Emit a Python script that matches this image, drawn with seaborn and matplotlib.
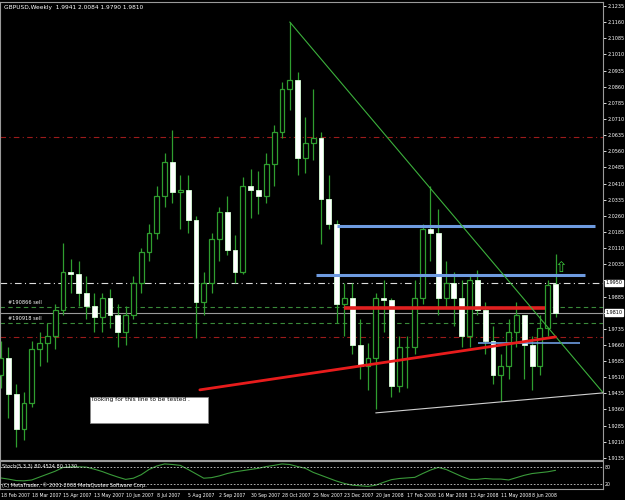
import numpy as np
import pandas as pd
import matplotlib
matplotlib.use("Agg")
import matplotlib.pyplot as plt
import seaborn as sns

# ---------------- data ----------------
week_labels = ["18 Feb 2007", "18 Mar 2007", "15 Apr 2007", "13 May 2007", "10 Jun 2007",
               "8 Jul 2007", "5 Aug 2007", "2 Sep 2007", "30 Sep 2007", "28 Oct 2007",
               "25 Nov 2007", "23 Dec 2007", "20 Jan 2008", "17 Feb 2008", "16 Mar 2008",
               "13 Apr 2008", "11 May 2008", "8 Jun 2008"]
week_label_pos = [0, 4, 8, 12, 16, 20, 24, 28, 32, 36, 40, 44, 48, 52, 56, 60, 64, 68]

opens = [1.9520, 1.9600, 1.9430, 1.9270, 1.9390, 1.9640, 1.9670, 1.9700, 1.9820, 2.0000,
         1.9990, 1.9900, 1.9840, 1.9790, 1.9880, 1.9800, 1.9720, 1.9800, 1.9950, 2.0090,
         2.0180, 2.0350, 2.0510, 2.0370, 2.0380, 2.0240, 1.9860, 1.9950, 2.0150, 2.0280,
         2.0100, 2.0000, 2.0400, 2.0380, 2.0350, 2.0500, 2.0650, 2.0850, 2.0890, 2.0530,
         2.0600, 2.0620, 2.0340, 2.0220, 1.9850, 1.9880, 1.9660, 1.9560, 1.9600, 1.9880,
         1.9870, 1.9470, 1.9650, 1.9650, 1.9880, 2.0200, 2.0180, 1.9880, 1.9950, 1.9880,
         1.9700, 1.9960, 1.9820, 1.9680, 1.9520, 1.9560, 1.9720, 1.9800, 1.9660, 1.9560,
         1.9740, 1.9941]
highs = [1.9680, 1.9650, 1.9480, 1.9440, 1.9680, 1.9720, 1.9760, 1.9850, 2.0133, 2.0060,
         2.0050, 1.9980, 1.9900, 1.9900, 1.9920, 1.9850, 1.9840, 1.9980, 2.0110, 2.0220,
         2.0400, 2.0550, 2.0658, 2.0450, 2.0450, 2.0260, 2.0000, 2.0180, 2.0300, 2.0350,
         2.0170, 2.0440, 2.0480, 2.0470, 2.0550, 2.0680, 2.0880, 2.1161, 2.0930, 2.0720,
         2.0850, 2.0650, 2.0450, 2.0240, 1.9950, 1.9950, 1.9780, 1.9670, 1.9900, 1.9960,
         1.9880, 1.9700, 1.9700, 1.9960, 2.0220, 2.0397, 2.0290, 2.0050, 2.0000, 1.9960,
         1.9990, 2.0010, 1.9860, 1.9750, 1.9620, 1.9780, 1.9860, 1.9800, 1.9700, 1.9800,
         1.9960, 2.0084]
lows = [1.9460, 1.9320, 1.9185, 1.9220, 1.9370, 1.9560, 1.9580, 1.9640, 1.9800, 1.9900,
        1.9840, 1.9780, 1.9720, 1.9720, 1.9740, 1.9650, 1.9660, 1.9780, 1.9900, 2.0050,
        2.0150, 2.0300, 2.0320, 2.0200, 2.0180, 1.9690, 1.9800, 1.9900, 2.0050, 2.0080,
        1.9950, 1.9990, 2.0250, 2.0270, 2.0320, 2.0400, 2.0620, 2.0750, 2.0450, 2.0460,
        2.0520, 2.0130, 2.0200, 1.9760, 1.9700, 1.9620, 1.9500, 1.9450, 1.9363, 1.9720,
        1.9420, 1.9440, 1.9460, 1.9620, 1.9850, 2.0050, 1.9800, 1.9830, 1.9750, 1.9650,
        1.9650, 1.9800, 1.9620, 1.9480, 1.9400, 1.9500, 1.9650, 1.9500, 1.9450, 1.9520,
        1.9700, 1.9790]
closes = [1.9600, 1.9430, 1.9270, 1.9390, 1.9640, 1.9670, 1.9700, 1.9820, 2.0000, 1.9990,
          1.9900, 1.9840, 1.9790, 1.9880, 1.9800, 1.9720, 1.9800, 1.9950, 2.0090, 2.0180,
          2.0350, 2.0510, 2.0370, 2.0380, 2.0240, 1.9860, 1.9950, 2.0150, 2.0280, 2.0100,
          2.0000, 2.0400, 2.0380, 2.0350, 2.0500, 2.0650, 2.0850, 2.0890, 2.0530, 2.0600,
          2.0620, 2.0340, 2.0220, 1.9850, 1.9880, 1.9660, 1.9560, 1.9600, 1.9880, 1.9870,
          1.9470, 1.9650, 1.9650, 1.9880, 2.0200, 2.0180, 1.9880, 1.9950, 1.9880, 1.9700,
          1.9960, 1.9820, 1.9680, 1.9520, 1.9560, 1.9720, 1.9800, 1.9660, 1.9560, 1.9740,
          1.9940, 1.9810]

stoch_main = [41, 37, 32, 31, 34, 44, 54, 64, 77, 79, 79, 78, 71, 63, 53, 44, 36, 40, 52, 70,
              82, 89, 87, 84, 70, 55, 40, 42, 48, 56, 62, 66, 70, 74, 80, 84, 89, 87, 80, 74,
              60, 50, 40, 30, 22, 16, 14, 12, 16, 26, 35, 39, 41, 43, 56, 68, 77, 70, 58, 46,
              36, 36, 39, 37, 37, 34, 42, 50, 56, 59, 62, 67]

price_ticks = [1.9135, 1.9210, 1.9285, 1.9360, 1.9435, 1.9510, 1.9585, 1.9660, 1.9735,
               1.9810, 1.9885, 1.9960, 2.0035, 2.0110, 2.0185, 2.0260, 2.0335, 2.0410,
               2.0485, 2.0560, 2.0635, 2.0710, 2.0785, 2.0860, 2.0935, 2.1010, 2.1085,
               2.1160, 2.1235]
hidden_ticks = [1.9810, 1.9960]

# drawn objects (price levels / trendlines)
red_dash_levels = [2.0626, 1.9697]
order_levels = [1.9836, 1.9762]
order_names = ["#190866 sell", "#190918 sell"]
line_level = 1.9948
bid_level = 1.9810
blue_levels = [2.0213, 1.9985, 1.9669]
blue_start = [43.1, 40.3, 61.1]
blue_end = [76.1, 74.8, 74.1]
red_bold_level = 1.9832
tri_upper = ([37, 77.1], [2.1161, 1.9437])
tri_lower = ([48, 77.1], [1.9344, 1.9437])
red_trend = ([25.5, 71.0], [1.9451, 1.9697])

title_text = "GBPUSD,Weekly  1.9941 2.0084 1.9790 1.9810"
note_text = "looking for this line to be tested ."

# ---------------- figure ----------------
sns.set_style("dark")
plt.rcParams['font.family'] = ['DejaVu Sans']
fig = plt.figure(figsize=(6.25, 5.0), dpi=100, facecolor="black")

ax = fig.add_axes([0.0, 0.08, 0.9648, 0.916])
ax2 = fig.add_axes([0.0, 0.022, 0.9648, 0.056])
for a in (ax, ax2):
    a.set_facecolor("black")
    for s in a.spines.values():
        s.set_color("#9a9a9a")
        s.set_linewidth(0.8)
    a.grid(False)

XMIN, XMAX = -0.064, 77.07
ax.set_xlim(XMIN, XMAX)
ax.set_ylim(1.9125, 2.1254)

df = pd.DataFrame({"i": np.arange(len(opens)), "o": opens, "h": highs, "l": lows, "c": closes})
green = "#2f9e2f"

# wicks
ax.vlines(df["i"], df["l"], df["h"], color=green, lw=0.9, zorder=3)
# bodies
bull = df[df["c"] >= df["o"]]
bear = df[df["c"] < df["o"]]
ax.bar(bull["i"], bull["c"] - bull["o"], bottom=bull["o"], width=0.62,
       color="black", edgecolor=green, linewidth=0.9, zorder=4)
ax.bar(bear["i"], bear["o"] - bear["c"], bottom=bear["c"], width=0.62,
       color="white", edgecolor="#d8ffd8", linewidth=0.6, zorder=4)

# horizontal levels
for lv in red_dash_levels:
    ax.axhline(lv, color="#9b1b1b", lw=0.8, ls=(0, (5, 3, 1, 3)), zorder=2)
ax.axhline(line_level, color="#dddddd", lw=0.8, ls=(0, (6, 3, 1, 3)), zorder=2)
ax.axhline(bid_level, color="#9a9a9a", lw=0.8, zorder=2)
for lv, nm in zip(order_levels, order_names):
    ax.axhline(lv, color="#3a8a3a", lw=0.8, ls=(0, (4, 3)), zorder=2)
    ax.text(1.0, lv + 0.0009, nm, color="white", fontsize=3.6, va="bottom", ha="left", zorder=6)

# blue lines
for lv, s, e, lw in zip(blue_levels, blue_start, blue_end, [2.2, 2.2, 1.2]):
    ax.hlines(lv, s, e, color="#6e9be0", lw=lw, zorder=5)

# red bold level
ax.hlines(red_bold_level, 44.0, 69.7, color="#e02020", lw=2.6, zorder=5)

# trend lines
ax.plot(tri_upper[0], tri_upper[1], color="#3cb03c", lw=0.8, zorder=5)
ax.plot(tri_lower[0], tri_lower[1], color="#d0d0d0", lw=0.8, zorder=5)
ax.plot(red_trend[0], red_trend[1], color="#e81c1c", lw=2.0, zorder=5)

# arrow mark
ax.text(71.7, 1.9985, "\u21e7", color="#3cc83c", fontsize=11, ha="center", va="bottom", zorder=6)

# note box
ax.add_patch(matplotlib.patches.Rectangle((11.5, 1.9297), 15.1, 0.0121,
                                          facecolor="white", edgecolor="#888888", lw=0.6, zorder=6))
ax.text(11.7, 1.9405, note_text, color="black", fontsize=4.2, ha="left", va="center", zorder=7)

# title
ax.text(0.006, 0.994, title_text, transform=ax.transAxes, color="white", fontsize=4.2,
        ha="left", va="top", zorder=7)

# right axis
ax.yaxis.tick_right()
ax.set_yticks(price_ticks)
ax.set_yticklabels(["" if t in hidden_ticks else f"{t:.4f}" for t in price_ticks])
ax.tick_params(axis="y", colors="white", labelsize=3.5, length=2, width=0.6, pad=1.2)
ax.set_xticks([])
for lv, txt in [(line_level, "1.9950"), (bid_level, "1.9810")]:
    ax.text(1.004, lv, txt, transform=ax.get_yaxis_transform(), color="black", fontsize=3.5,
            ha="left", va="center", zorder=8,
            bbox=dict(boxstyle="square,pad=0.15", facecolor="white", edgecolor="white"))

# ---------------- stochastic panel ----------------
sdf = pd.DataFrame({"i": np.arange(len(stoch_main)), "v": stoch_main})
sns.lineplot(data=sdf, x="i", y="v", ax=ax2, color="#3a9a3a", lw=0.8)
ax2.set_xlim(XMIN, XMAX)
ax2.set_ylim(3, 99)
for lv in (80, 20):
    ax2.axhline(lv, color="#cccccc", lw=0.6, ls=(0, (2, 2)))
ax2.yaxis.tick_right()
ax2.set_yticks([80, 20])
ax2.set_yticklabels(["80", "20"])
ax2.tick_params(axis="y", colors="white", labelsize=3.4, length=0, pad=1)
ax2.set_xticks(week_label_pos)
ax2.set_xticklabels(week_labels)
ax2.tick_params(axis="x", colors="white", labelsize=3.3, length=2, width=0.5, pad=1.0)
for t in ax2.get_xticklabels():
    t.set_ha("left")
ax2.set_xlabel("")
ax2.set_ylabel("")
ax.set_ylabel("")
ax2.text(0.004, 0.80, "Stoch(5,3,3) 80.4524 80.1130", transform=ax2.transAxes, color="white",
         fontsize=3.6, ha="left", va="center")
ax2.text(0.004, 0.14, "(C) MetaTrader, \u00a9 2001-2008 MetaQuotes Software Corp.",
         transform=ax2.transAxes, color="white", fontsize=3.6, ha="left", va="center")

fig.savefig("out.png", dpi=100, facecolor="black")
